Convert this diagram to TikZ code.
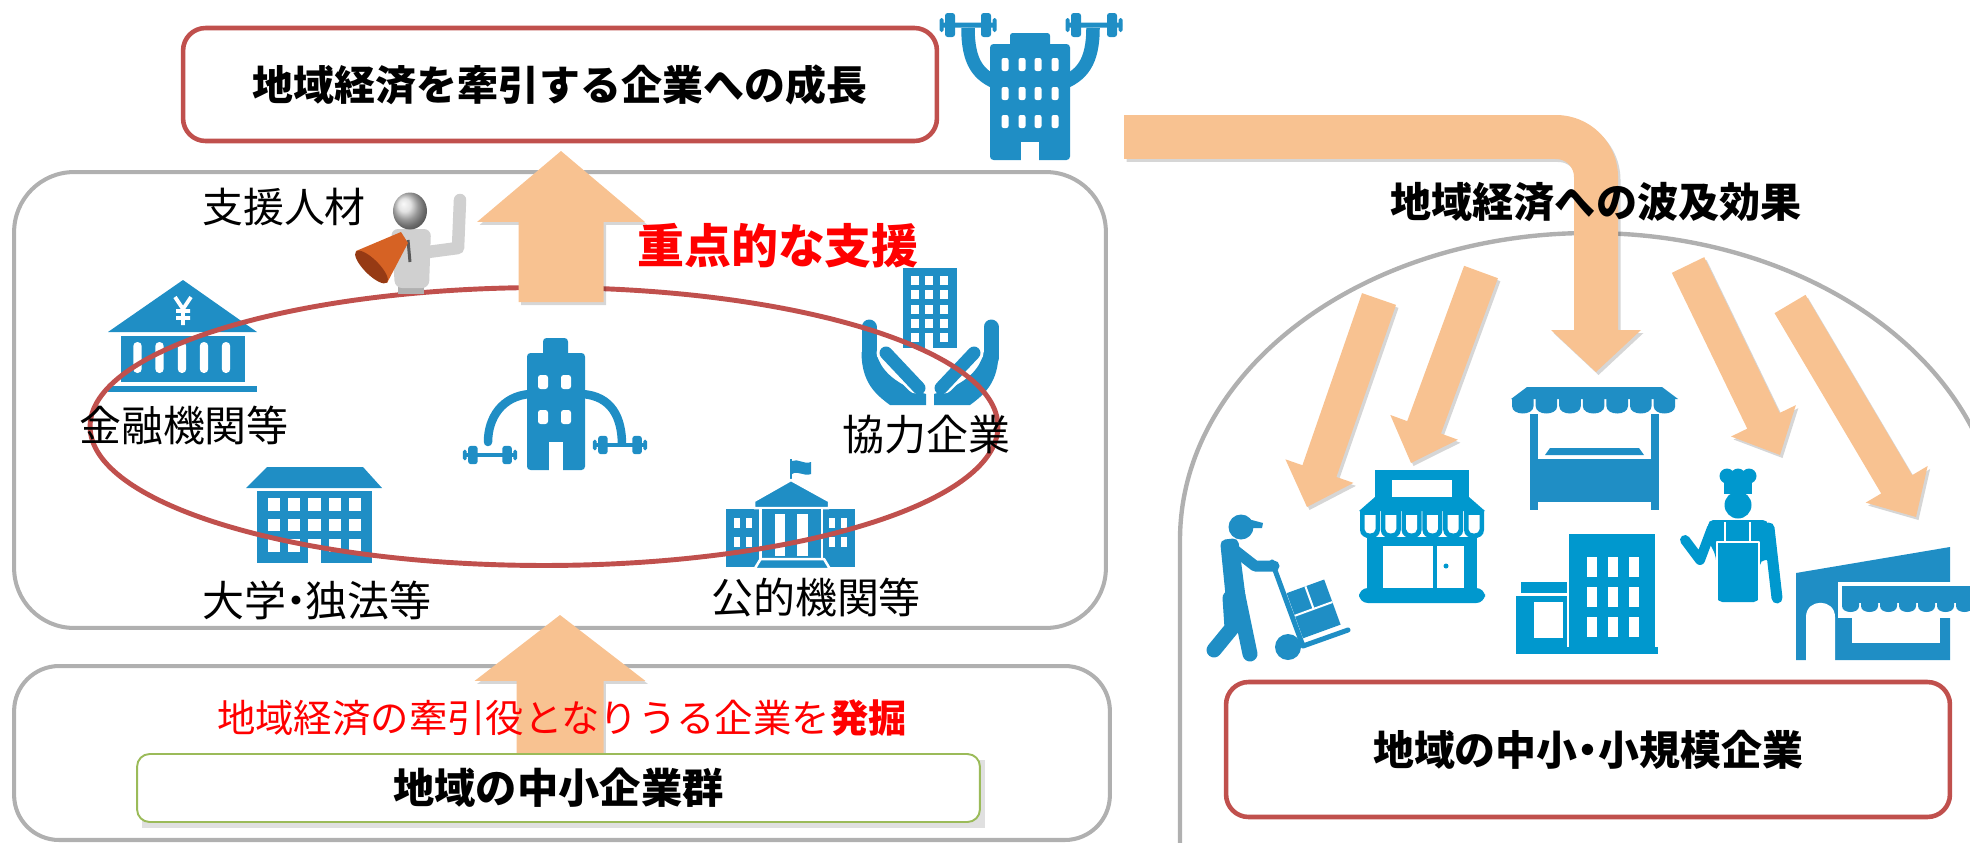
\documentclass[tikz,border=0pt]{standalone}
\usepackage{fontspec}
\setmainfont{Noto Sans CJK JP}
\usetikzlibrary{calc,shapes.geometric}

\definecolor{peach}{RGB}{248,194,145}
\definecolor{boxred}{RGB}{192,80,77}
\definecolor{framegray}{RGB}{176,176,176}
\definecolor{leafgreen}{RGB}{155,187,89}
\definecolor{iconblue}{RGB}{31,142,197}
\definecolor{iconcyan}{RGB}{0,152,206}
\definecolor{alertred}{RGB}{255,0,0}
\definecolor{horn}{RGB}{214,98,36}
\definecolor{hornrim}{RGB}{150,58,20}
\definecolor{figgray}{RGB}{208,208,208}

% font size in pt
\newcommand\fs[1]{\fontsize{#1pt}{#1pt}\selectfont}

% outline of a straight block arrow:
% #1 tail, #2 tip, #3 half shaft width, #4 half head width, #5 head-base coordinate
\newcommand\arrowoutline[5]{($(#1)!#3!90:(#2)$) -- ($(#5)!#3!90:(#2)$) -- ($(#5)!#4!90:(#2)$) -- (#2) -- ($(#5)!#4!-90:(#2)$) -- ($(#5)!#3!-90:(#2)$) -- ($(#1)!#3!-90:(#2)$) -- cycle}
% #1 tail, #2 tip, #3 half shaft width, #4 half head width, #5 head length
\newcommand\blockarrow[5]{%
  \coordinate (#1-base) at ($(#2)!#5!(#1)$);
  \fill[arrowshadow] \arrowoutline{#1}{#2}{#3}{#4}{#1-base};
  \fill[arrowfill] \arrowoutline{#1}{#2}{#3}{#4}{#1-base};
}

\begin{document}
\begin{tikzpicture}[x=0.02cm, y=-0.02cm, line join=round,
  arrowfill/.style={fill=peach},
  arrowshadow/.style={fill=black, opacity=0.16, transform canvas={shift={(0.05cm,-0.06cm)}}},
  panel/.style={draw=framegray, line width=2.3pt, fill=none, inner sep=0pt},
  redbox/.style={draw=boxred, line width=2.6pt, rounded corners=0.45cm, fill=white, inner sep=0pt, font=\bfseries\fs{23.3}},
  plaintext/.style={font=\fs{23.9}, inner sep=0pt},
  headline/.style={font=\bfseries\fs{23.4}, inner sep=0pt},
  ib/.style={fill=iconblue},
  ic/.style={fill=iconcyan},
  dumbbell/.pic={
    \fill[iconblue, rounded corners=0.5pt] (-28,-2.5) rectangle (28,2.5);
    \fill[iconblue, rounded corners=1.5pt] (-23,-12) rectangle (-13,12);
    \fill[iconblue, rounded corners=1.5pt] (13,-12) rectangle (23,12);
    \fill[iconblue, rounded corners=1pt] (-28.5,-7) rectangle (-24.5,7);
    \fill[iconblue, rounded corners=1pt] (24.5,-7) rectangle (28.5,7);
  },
  hand/.pic={
    \draw[iconblue, line width=0.3cm, line cap=round] (-61,327) -- (-61,358);
    \fill[iconblue] (-68.5,352) .. controls (-68.5,382) and (-55,394) .. (-40,405) -- (-4,405) -- (-4,394) .. controls (-22,389) and (-50,376) .. (-53.5,352) -- cycle;
    \draw[white, line width=0.38cm, line cap=round] (-44,353) -- (-14,384);
    \draw[iconblue, line width=0.26cm, line cap=round] (-44,353) -- (-11,388);
  },
]
\useasboundingbox (0,0) rectangle (1970,842);
\clip (0,0) rectangle (1970,842);

% ---------- frames
\node[panel, rounded corners=1.2cm, minimum width=21.84cm, minimum height=9.12cm] (supportpanel) at (560,400) {};
\node[panel, rounded corners=0.9cm, minimum width=21.92cm, minimum height=3.48cm] (basepanel) at (562,753) {};
\draw[framegray, line width=2.5pt] (1180,870) -- (1180,540) .. controls (1180,370) and (1363,233) .. (1590,233) .. controls (1817,233) and (2000,370) .. (2000,540) -- (2000,870);

% ---------- building lifting dumbbells overhead
\fill[ib, rounded corners=2pt] (990,44) rectangle (1070,160);
\fill[ib, rounded corners=1.5pt] (1010,33) rectangle (1050,50);
\foreach \cx in {1005,1022,1038,1055}
  \foreach \cy in {58,87,115}
    \fill[white, rounded corners=1.2pt] (\cx-3.5,\cy) rectangle (\cx+3.5,\cy+13);
\fill[white] (1021,142) rectangle (1039,162);
\draw[iconblue, line width=0.27cm] (968,28) .. controls (968,62) and (978,76) .. (1000,84);
\draw[iconblue, line width=0.27cm] (1093,28) .. controls (1093,62) and (1082,76) .. (1060,84);
\pic at (968,25) {dumbbell};
\pic at (1094,25) {dumbbell};

% ---------- bank
\fill[ib] (108,332) -- (183,280) -- (257,332) -- cycle;
\fill[ib] (121,336) rectangle (245,382);
\fill[ib] (108,386) rectangle (257,392);
\foreach \cx in {137.5,159.5,182,204,226}
  \fill[white, rounded corners=2.3pt] (\cx-4.2,342) rectangle (\cx+4.2,373);
\draw[white, line width=0.075cm] (175,297) -- (183,309) -- (191,297) (183,309) -- (183,325) (176,311) -- (190,311) (176,318) -- (190,318);

% ---------- central building with dumbbells
\fill[ib, rounded corners=2pt] (527,353) rectangle (585,470);
\fill[ib, rounded corners=2pt] (543,338) rectangle (568,358);
\foreach \cx in {543,566}
  \foreach \cy in {375,410}
    \fill[white, rounded corners=1.5pt] (\cx-5,\cy) rectangle (\cx+5,\cy+14);
\fill[white] (549,442) rectangle (563,471);
\draw[iconblue, line width=0.17cm, line cap=round] (530,394) .. controls (502,396) and (488,418) .. (488,442);
\draw[iconblue, line width=0.17cm] (582,394) .. controls (612,396) and (622,418) .. (622,445);
\pic[scale=0.95, yscale=0.8] at (490,455) {dumbbell};
\pic[scale=0.95, yscale=0.8] at (620,445) {dumbbell};

% ---------- hands holding a building
\fill[ib] (903,268) rectangle (957,348);
\foreach \cx in {915,929,944}
  \foreach \cy in {276,290,305,319,333}
    \fill[white] (\cx-4.3,\cy) rectangle (\cx+4.3,\cy+8.5);
\fill[white] (924.7,333) rectangle (933.3,349);
\pic at (930,0) {hand};
\pic[xscale=-1] at (930,0) {hand};

% ---------- university
\fill[ib] (267,467) -- (363,467) -- (382,488) -- (246,488) -- cycle;
\fill[ib] (256.5,491) rectangle (372,563);
\foreach \cx in {273.7,294,314.5,335,355.3}
  \foreach \cy in {498,518.5,539}
    \fill[white] (\cx-6.1,\cy) rectangle (\cx+6.1,\cy+12.5);
\fill[white] (308.4,539) rectangle (320.6,564);

% ---------- public office with flag
\draw[iconblue, line width=0.05cm] (791,484) -- (791,459);
\fill[ib] (792,461) .. controls (798,458) and (804,465) .. (811,462) -- (811,474) .. controls (804,477) and (798,470) .. (792,474) -- cycle;
\fill[ib] (726,509) rectangle (760.6,567);
\fill[ib] (822,509) rectangle (855,567);
\foreach \cx in {737,749,832,844}
  \foreach \cy in {518,537}
    \fill[white] (\cx-3,\cy) rectangle (\cx+3,\cy+10);
\fill[ib, draw=white, line width=0.05cm] (791,480) -- (829,501) -- (829,508) -- (754,508) -- (754,501) -- cycle;
\fill[ib, draw=white, line width=0.05cm] (760.6,508) rectangle (822,560);
\fill[white] (775,514) rectangle (785,556);
\fill[white] (797,514) rectangle (807.6,556);
\fill[ib, draw=white, line width=0.05cm] (760.6,559) -- (824,559) -- (830,569) -- (754.5,569) -- cycle;

% ---------- cooperation ring
\node[draw=boxred, line width=2.8pt, ellipse, minimum width=18.16cm, minimum height=5.56cm, inner sep=0pt] (ring) at (544,426.5) {};

% ---------- helper with a loudhailer
\fill[figgray!85!black] (398,278) rectangle (424,294);
\fill[figgray, rounded corners=4pt] (391,229) -- (431,229) -- (429,288) -- (395,288) -- cycle;
\draw[figgray, line width=0.25cm, line cap=round] (428,252) -- (458,248) -- (460,200);
\shade[ball color=figgray!80] (410,211) ellipse [x radius=0.34cm, y radius=0.37cm];
\draw[black!65, line width=0.06cm] (408,240) -- (410,262);
\fill[horn] (401,232) -- (408,243) -- (387,283) -- (356,251) -- cycle;
\fill[hornrim, rotate around={-45:(371.5,267)}] (371.5,267) ellipse [x radius=0.44cm, y radius=0.15cm];

% ---------- upward arrow to growth
\coordinate (liftT) at (561,302);
\coordinate (liftP) at (561,151);
\blockarrow{liftT}{liftP}{0.85cm}{1.68cm}{1.42cm}

% ---------- growth box and labels
\node[redbox, minimum width=15.08cm, minimum height=2.26cm] (growth) at (560,84.5) {地域経済を牽引する企業への成長};
\node[plaintext, font=\fs{23.3}] (staff) at (284,207) {支援人材};
\node[font=\bfseries\fs{26.7}, text=alertred, inner sep=0pt] (focus) at (778,246) {重点的な支援};
\node[plaintext] (finance) at (184,425) {金融機関等};
\node[plaintext] (partner) at (926,435) {協力企業};
\node[plaintext] (academia) at (317,600) {大学\kern-0.28em・\kern-0.28em 独法等};
\node[plaintext] (public) at (816,598) {公的機関等};

% ---------- upward arrow from the local firms
\coordinate (scoutT) at (560,760);
\coordinate (scoutP) at (560,615);
\blockarrow{scoutT}{scoutP}{0.87cm}{1.71cm}{1.32cm}
\fill[black, opacity=0.12] (142,760) rectangle (985,828);
\node[draw=leafgreen, line width=1.1pt, rounded corners=0.25cm, fill=white, inner sep=0pt, minimum width=16.86cm, minimum height=1.36cm, font=\bfseries\fs{23.5}] (cluster) at (558.5,788) {地域の中小企業群};
\node[font=\fs{21.85}, text=alertred, inner sep=0pt] (scouttext) at (562,718) {地域経済の牽引役となりうる企業を\textbf{発掘}};

% ---------- spill-over arrow
\coordinate (spillA) at (1124,137);
\coordinate (spillB) at (1596,137);
\coordinate (spillC) at (1596,334);
\coordinate (spillN) at (1596,329);
\coordinate (spillP) at (1596,372);
\draw[black, opacity=0.16, line width=0.88cm, rounded corners=0.8cm, transform canvas={shift={(0.05cm,-0.06cm)}}] (spillA) -- (spillB) -- (spillC);
\draw[peach, line width=0.88cm, rounded corners=0.8cm] (spillA) -- (spillB) -- (spillC);
\blockarrow{spillN}{spillP}{0.44cm}{0.9cm}{0.84cm}

\coordinate (rippleA1) at (1379,299);
\coordinate (rippleA2) at (1307,507);
\blockarrow{rippleA1}{rippleA2}{0.36cm}{0.72cm}{0.76cm}
\coordinate (rippleB1) at (1481,272);
\coordinate (rippleB2) at (1411,463);
\blockarrow{rippleB1}{rippleB2}{0.36cm}{0.72cm}{0.76cm}
\coordinate (rippleD1) at (1688,265);
\coordinate (rippleD2) at (1780,455);
\blockarrow{rippleD1}{rippleD2}{0.36cm}{0.72cm}{0.76cm}
\coordinate (rippleE1) at (1790,304);
\coordinate (rippleE2) at (1916,517);
\blockarrow{rippleE1}{rippleE2}{0.36cm}{0.72cm}{0.76cm}

\node[headline] (spilltext) at (1596,202) {地域経済への波及効果};

% ---------- courier with a hand truck
\fill[ib] (1241,527) circle [radius=0.25cm];
\fill[ib] (1248,519) -- (1263,523) -- (1262,528) -- (1248,528) -- cycle;
\fill[ib, rounded corners=3pt] (1220,540) -- (1238,538) -- (1246,600) -- (1226,600) -- cycle;
\draw[iconblue, line width=0.22cm, line cap=round] (1232,548) -- (1255,566) -- (1274,566);
\draw[iconblue, line width=0.3cm, line cap=round] (1238,596) -- (1250,654);
\draw[iconblue, line width=0.3cm, line cap=round] (1230,598) -- (1232,628) -- (1214,650);
\draw[iconblue, line width=0.1cm, line cap=round] (1272,562) -- (1303,646) -- (1348,630);
\fill[ib] (1288,647) circle [radius=0.26cm];
\fill[ib, rotate around={20:(1310,640)}] (1304,588) rectangle (1344,636);
\draw[white, line width=0.04cm, rotate around={20:(1310,640)}] (1304,612) -- (1344,612) (1324,588) -- (1324,612);

% ---------- shop front
\fill[ic] (1375,470) rectangle (1469,498);
\fill[white] (1392,480) rectangle (1452,499);
\fill[ic] (1375,497) -- (1469,497) -- (1485,511) -- (1359,511) -- cycle;
\foreach \i in {0,...,5} {
  \pgfmathsetmacro\xa{1360+20.8*\i}
  \fill[ic] (\xa,510) -- (\xa,530) .. controls (\xa,541) and (\xa+20,541) .. (\xa+20,530) -- (\xa+20,510) -- cycle;
  \fill[white] (\xa+4.5,515) -- (\xa+4.5,529) .. controls (\xa+4.5,535) and (\xa+15.5,535) .. (\xa+15.5,529) -- (\xa+15.5,515) -- cycle;
}
\fill[ic] (1367,537) rectangle (1477,592);
\fill[white] (1383,546) rectangle (1464,588);
\fill[ic] (1433,546) rectangle (1437,588);
\fill[ic] (1446,566) circle [radius=0.05cm];
\fill[ic, rounded corners=5pt] (1359,588) rectangle (1485,603);

% ---------- market stall
\fill[ib] (1527,387) -- (1662,387) -- (1678,399) -- (1511,399) -- cycle;
\foreach \i in {0,...,6} {
  \pgfmathsetmacro\xa{1512+23.6*\i}
  \fill[ib] (\xa,398) -- (\xa,406) .. controls (\xa,416) and (\xa+21.6,416) .. (\xa+21.6,406) -- (\xa+21.6,398) -- cycle;
}
\fill[ib] (1530,414) rectangle (1538,510);
\fill[ib] (1651,414) rectangle (1659,510);
\fill[ib] (1550,448) -- (1639,448) -- (1644,455) -- (1545,455) -- cycle;
\fill[ib] (1530,459) rectangle (1659,502);

% ---------- office block
\fill[ic] (1521,582) rectangle (1571,593);
\fill[ic] (1516,596) rectangle (1574,653);
\fill[white] (1534,602) rectangle (1563,638);
\fill[ic, draw=white, line width=0.04cm] (1568,533) rectangle (1656,653);
\foreach \cx in {1592,1613,1634}
  \foreach \cy in {557,587,617}
    \fill[white] (\cx-5,\cy) rectangle (\cx+5,\cy+20);
\fill[ic] (1516,647) rectangle (1658,654);

% ---------- cook
\fill[ic] (1724,478) rectangle (1752,494);
\foreach \cx in {1727,1738,1749}
  \fill[ic] (\cx,476) circle [radius=0.15cm];
\fill[ic] (1738,505) circle [radius=0.27cm];
\fill[ic, rounded corners=3pt] (1708,520) -- (1768,520) -- (1773,560) -- (1760,560) -- (1759,602) -- (1717,602) -- (1716,556) -- (1708,540) -- cycle;
\draw[iconcyan, line width=0.2cm, line cap=round] (1712,528) -- (1700,560) -- (1685,540);
\draw[iconcyan, line width=0.22cm, line cap=round] (1769,528) -- (1777,598);
\draw[white, line width=0.04cm] (1717,602) -- (1717,542) -- (1759,542) -- (1759,602) (1725,542) -- (1725,522) (1750,542) -- (1750,522);

% ---------- shop under a sloping roof
\fill[ib] (1796,573) -- (1950,547) -- (1950,660) -- (1796,660) -- cycle;
\fill[white] (1806,661) -- (1806,617) .. controls (1806,598) and (1835,598) .. (1835,617) -- (1835,661) -- cycle;
\fill[white] (1838,582) rectangle (1972,618);
\fill[ib] (1842,586) rectangle (1972,603);
\foreach \i in {0,...,6} {
  \pgfmathsetmacro\xa{1842+19*\i}
  \fill[ib] (\xa,602) -- (\xa,606) .. controls (\xa,614) and (\xa+17,614) .. (\xa+17,606) -- (\xa+17,602) -- cycle;
}
\fill[white] (1852,618) rectangle (1940,643);

% ---------- local small businesses
\node[redbox, minimum width=14.48cm, minimum height=2.7cm] (local) at (1588,749.5) {地域の中小\kern-0.25em・\kern-0.25em 小規模企業};

\end{tikzpicture}
\end{document}
